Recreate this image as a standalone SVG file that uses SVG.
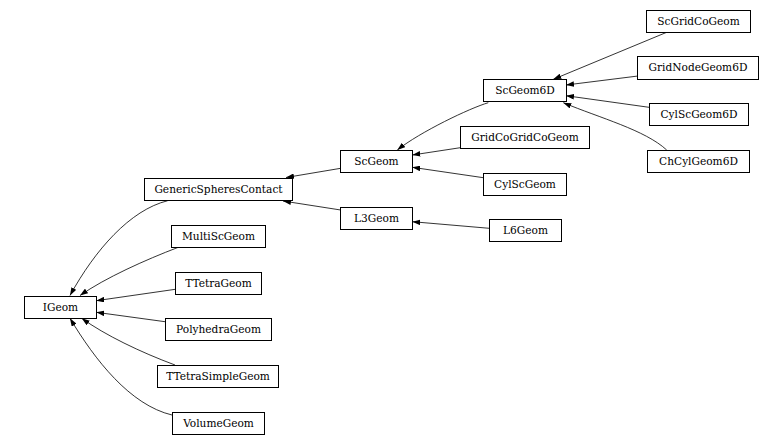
<svg xmlns="http://www.w3.org/2000/svg" width="784" height="444" viewBox="0 0 784 444">
<style>
.n rect{fill:#fff;stroke:#000;stroke-width:1}
.n text{font-family:"DejaVu Serif",serif;font-size:10.6px;fill:#000;text-anchor:middle}
.e path{fill:none;stroke:#000;stroke-width:0.8;marker-end:url(#ah)}
</style>
<defs>
<marker id="ah" viewBox="0 0 10 7" refX="10" refY="3.5" markerWidth="8" markerHeight="5.6" markerUnits="userSpaceOnUse" orient="auto">
<path d="M0,0 L10,3.5 L0,7 z" fill="#000"/>
</marker>
</defs>
<rect width="784" height="444" fill="#fff"/>
<g id="connectors" class="e">
<path d="M666.7,32.3 L553.3,79.3"/>
<path d="M638,76 L566,85"/>
<path d="M649,107.3 L566,95.7"/>
<path d="M666.7,150 C645,130 600,118 563.3,102.7"/>
<path d="M488.3,102.7 C470,108 420,132 397.3,150"/>
<path d="M460.3,147.7 L412.3,155"/>
<path d="M483.3,177.7 L412.3,167.3"/>
<path d="M489.3,228.3 L412.3,221.7"/>
<path d="M340.7,168.3 L286,177.5"/>
<path d="M340.7,210 L283,201"/>
<path d="M167.7,200.7 C130,210 95,250 70,295.5"/>
<path d="M178.3,247.3 C145,260 105,278 80,295.5"/>
<path d="M175.3,289.3 L96.3,300.7"/>
<path d="M165,321.7 L96.3,312.3"/>
<path d="M175,365 C140,352 105,335 81.7,318.3"/>
<path d="M172,415 C130,405 95,360 70,318.3"/>
</g>
<g id="ScGridCoGeom" class="n"><rect x="646.5" y="10.5" width="104" height="22"/><text x="698.5" y="24.8">ScGridCoGeom</text></g>
<g id="GridNodeGeom6D" class="n"><rect x="637.5" y="56.5" width="121" height="23"/><text x="698" y="71.3">GridNodeGeom6D</text></g>
<g id="ScGeom6D" class="n"><rect x="483.5" y="79.5" width="83" height="22"/><text x="525" y="93.8">ScGeom6D</text></g>
<g id="CylScGeom6D" class="n"><rect x="649.5" y="103.5" width="99" height="22"/><text x="699" y="117.8">CylScGeom6D</text></g>
<g id="GridCoGridCoGeom" class="n"><rect x="460.5" y="126.5" width="129" height="22"/><text x="525" y="140.8">GridCoGridCoGeom</text></g>
<g id="ChCylGeom6D" class="n"><rect x="647.5" y="150.5" width="102" height="22"/><text x="698.5" y="164.8">ChCylGeom6D</text></g>
<g id="ScGeom" class="n"><rect x="340.5" y="150.5" width="72" height="22"/><text x="376.5" y="164.8">ScGeom</text></g>
<g id="CylScGeom" class="n"><rect x="483.5" y="173.5" width="83" height="22"/><text x="525" y="187.8">CylScGeom</text></g>
<g id="L3Geom" class="n"><rect x="340.5" y="207.5" width="72" height="22"/><text x="376.5" y="221.8">L3Geom</text></g>
<g id="L6Geom" class="n"><rect x="489.5" y="219.5" width="72" height="22"/><text x="525.5" y="233.8">L6Geom</text></g>
<g id="GenericSpheresContact" class="n"><rect x="144.5" y="178.5" width="148" height="22"/><text x="218.5" y="192.8">GenericSpheresContact</text></g>
<g id="MultiScGeom" class="n"><rect x="171.5" y="225.5" width="94" height="22"/><text x="218.5" y="239.8">MultiScGeom</text></g>
<g id="TTetraGeom" class="n"><rect x="175.5" y="272.5" width="86" height="22"/><text x="218.5" y="286.8">TTetraGeom</text></g>
<g id="IGeom" class="n"><rect x="24.5" y="296.5" width="72" height="22"/><text x="60.5" y="310.8">IGeom</text></g>
<g id="PolyhedraGeom" class="n"><rect x="165.5" y="318.5" width="106" height="22"/><text x="218.5" y="332.8">PolyhedraGeom</text></g>
<g id="TTetraSimpleGeom" class="n"><rect x="157.5" y="365.5" width="121" height="22"/><text x="218" y="379.8">TTetraSimpleGeom</text></g>
<g id="VolumeGeom" class="n"><rect x="172.5" y="412.5" width="92" height="22"/><text x="218.5" y="426.8">VolumeGeom</text></g>
</svg>
